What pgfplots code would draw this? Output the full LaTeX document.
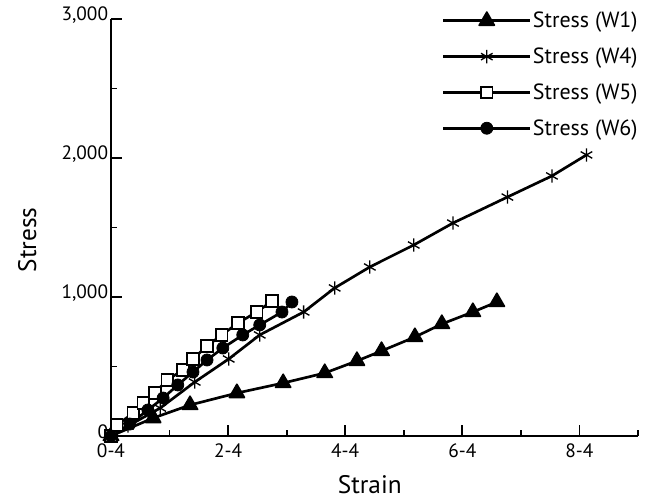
\documentclass[border=0pt]{standalone}
\usepackage{pgfplots}
\pgfplotsset{compat=1.18}
\usepackage{fontspec}
\setmainfont{PT Sans}

\begin{document}
\begin{tikzpicture}
\begin{axis}[
  scale only axis, width=395.25pt, height=312.75pt,
  xmin=0, xmax=9, ymin=0, ymax=3000,
  axis x line=bottom, axis y line=left,
  axis line style={line width=2pt, -},
  xtick={0,2,4,6,8}, xticklabels={0-4,2-4,4-4,6-4,8-4},
  ytick={0,1000,2000,3000}, yticklabels={0,{1,000},{2,000},{3,000}},
  minor xtick={1,3,5,7,9}, minor ytick={500,1500,2500},
  tick align=inside, major tick length=8.5pt, minor tick length=4.5pt,
  every tick/.style={black, line width=1.3pt},
  ticklabel style={font=\fontsize{14.5}{16}\selectfont},
  yticklabel style={inner sep=0pt, xshift=-2pt, yshift=3pt},
  xticklabel style={inner sep=0pt, yshift=-5.5pt},
  xlabel={Strain}, ylabel={Stress},
  label style={font=\fontsize{19}{22}\selectfont},
  xlabel style={at={(rel axis cs:0.491,-0.117)}, anchor=center},
  ylabel style={at={(rel axis cs:-0.159,0.47)}, anchor=center},
  clip=false,
  legend style={draw=none, fill=none, at={(rel axis cs:0.620,1.027)}, anchor=north west,
    font=\fontsize{16.5}{18}\selectfont, row sep=11.6pt, cells={anchor=west},
    nodes={inner sep=1pt}},
  legend image code/.code={\draw[black, line width=2.2pt] (0pt,0pt) -- (65pt,0pt);
    \draw[mark repeat=2,mark phase=2,#1] plot coordinates {(0pt,0pt) (32.5pt,0pt) (65pt,0pt)};},
  every axis plot/.append style={black, line width=2pt},
]
\addplot[mark=triangle*, mark size=6.6pt, mark options={line width=1.2pt, line join=round}] coordinates {
 (0,0) (0.72,129) (1.35,223) (2.15,309) (2.94,381) (3.65,453) (4.20,540)
 (4.62,612) (5.19,712) (5.65,806) (6.18,892) (6.59,964)};
\addlegendentry{Stress (W1)}
\addplot[mark=asterisk, mark size=5pt, mark options={line width=1pt}] coordinates {
 (0,0) (0.29,72) (0.84,201) (1.43,388) (2.01,554) (2.54,727) (3.29,892)
 (3.82,1065) (4.42,1216) (5.17,1374) (5.84,1532) (6.77,1719) (7.53,1871) (8.12,2022)};
\addlegendentry{Stress (W4)}
\addplot[mark=square*, mark size=4.3pt, mark options={fill=white, line width=1.3pt}] coordinates {
 (0,0) (0.10,79) (0.38,165) (0.55,237) (0.75,309) (0.96,403) (1.23,475)
 (1.40,554) (1.64,647) (1.89,727) (2.17,813) (2.49,892) (2.75,971)};
\addlegendentry{Stress (W5)}
\addplot[mark=*, mark size=4.5pt, mark options={line width=0.6pt}] coordinates {
 (0,0) (0.32,86) (0.63,187) (0.89,273) (1.14,367) (1.40,460) (1.64,547)
 (1.91,633) (2.25,727) (2.54,799) (2.92,892) (3.09,964)};
\addlegendentry{Stress (W6)}
\path (rel axis cs:0,0) ++(-83.25pt,-48pt) rectangle ++(495pt,375pt);
\end{axis}
\end{tikzpicture}
\end{document}
